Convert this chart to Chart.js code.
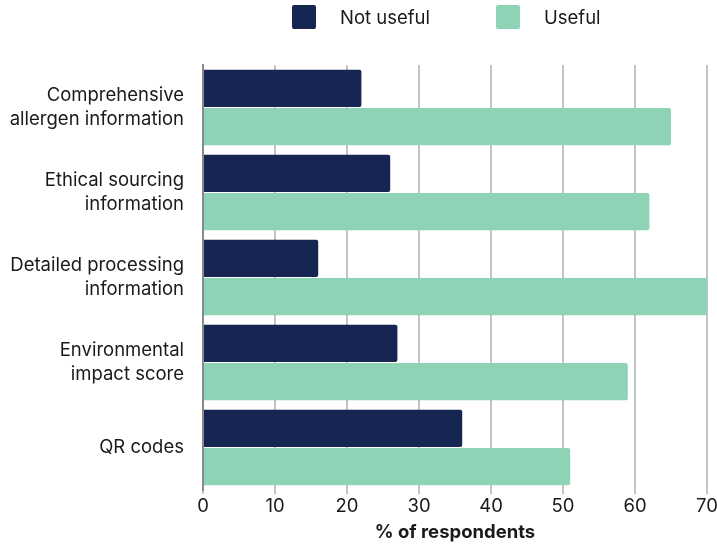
<!DOCTYPE html>
<html>
<head>
<meta charset="utf-8">
<script src="https://cdn.jsdelivr.net/npm/chart.js@4"></script>
<style>
  html, body { margin: 0; padding: 0; background: #fff; }
  #wrap { width: 717px; height: 546px; position: relative; }
</style>
</head>
<body>
<div id="wrap"><canvas id="myChart"></canvas></div>
<script>
// data
const categories = [
  ["Comprehensive", "allergen information"],
  ["Ethical sourcing", "information"],
  ["Detailed processing", "information"],
  ["Environmental", "impact score"],
  ["QR codes"]
];
const notUseful = [22, 26, 16, 27, 36];
const useful = [65, 62, 70, 59, 51];
const xTicks = [0, 10, 20, 30, 40, 50, 60, 70];

const navy = "#172552";
const mint = "#8fd3b6";
const textColor = "#1a1a1a";
const fs = 18.5;

// legend drawn by hand (box / gap like in the picture)
const topLegend = {
  id: "topLegend",
  afterDraw(chart) {
    const c = chart.ctx;
    const items = chart.data.datasets.map(d => ({ text: d.label, color: d.backgroundColor }));
    const pos = [292, 496];
    c.save();
    c.font = fs + "px Inter";
    c.textBaseline = "middle";
    items.forEach((it, i) => {
      c.fillStyle = it.color;
      c.beginPath();
      c.roundRect(pos[i], 5, 24, 24, 2);
      c.fill();
      c.fillStyle = textColor;
      c.fillText(it.text, pos[i] + 48, 18);
    });
    c.restore();
  }
};

const ctx = document.getElementById("myChart").getContext("2d");
const chart = new Chart(ctx, {
  type: "bar",
  data: {
    labels: categories,
    datasets: [
      {
        label: "Not useful",
        data: notUseful,
        backgroundColor: navy,
        borderRadius: 2,
        borderSkipped: "start",
        categoryPercentage: 0.9,
        barPercentage: 0.98
      },
      {
        label: "Useful",
        data: useful,
        backgroundColor: mint,
        borderRadius: 2,
        borderSkipped: "start",
        categoryPercentage: 0.9,
        barPercentage: 0.98
      }
    ]
  },
  options: {
    indexAxis: "y",
    responsive: true,
    maintainAspectRatio: false,
    animation: false,
    layout: { padding: { top: 65, right: 10, left: 0, bottom: 0 } },
    plugins: {
      legend: { display: false },
      tooltip: { enabled: false }
    },
    scales: {
      x: {
        min: 0,
        max: 70,
        afterBuildTicks: s => { s.ticks = xTicks.map(v => ({ value: v })); },
        afterFit: s => { s.height = 56; s.paddingRight = 0; },
        grid: { color: "#c4c4c4", lineWidth: 2, drawTicks: true, tickLength: 4 },
        border: { display: false },
        ticks: { color: textColor, font: { family: "Inter", size: fs }, padding: 1, maxRotation: 0 },
        title: {
          display: true,
          text: "% of respondents",
          color: textColor,
          font: { family: "Inter", size: fs, weight: "bold" },
          padding: { top: 0, bottom: 2 }
        }
      },
      y: {
        afterFit: s => { s.width = 203; },
        grid: { display: false },
        border: { display: true, color: "#8a8a8a", width: 2 },
        ticks: { color: textColor, font: { family: "Inter", size: fs, lineHeight: 1.32 }, padding: 11 }
      }
    }
  },
  plugins: [topLegend]
});
</script>
</body>
</html>
